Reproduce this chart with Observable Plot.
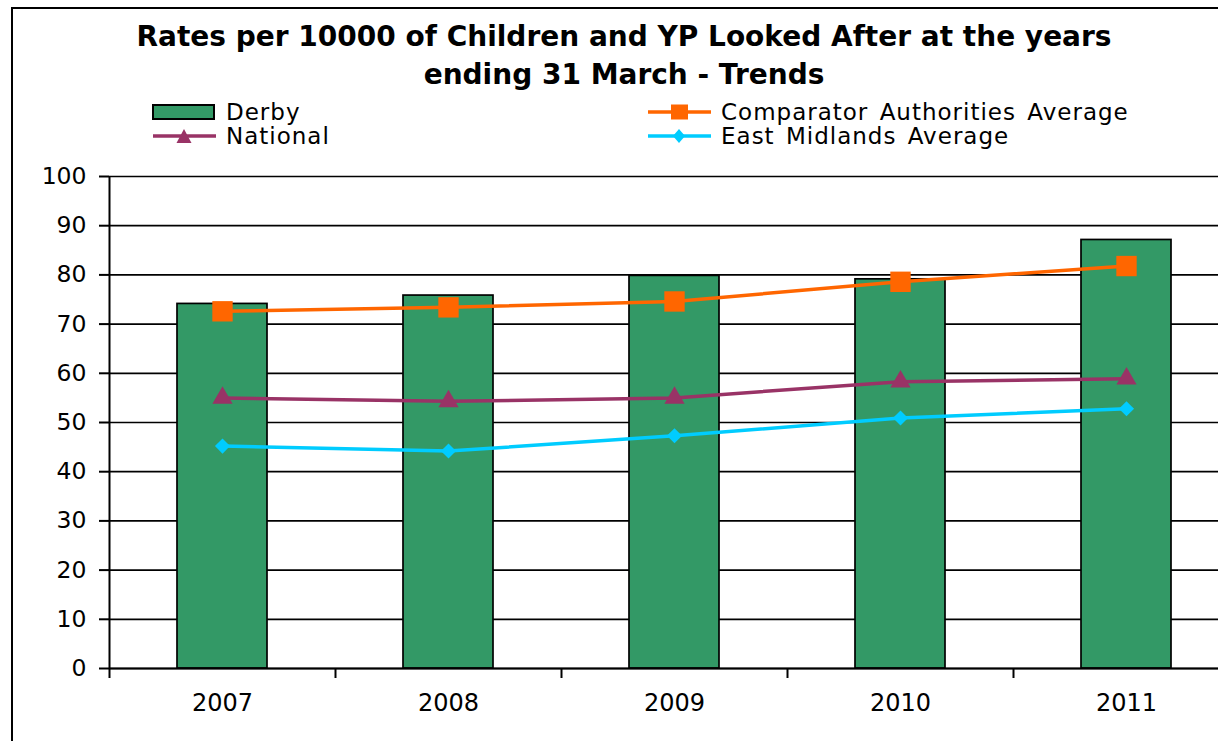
<!DOCTYPE html>
<html>
<head>
<meta charset="utf-8">
<script src="https://cdn.jsdelivr.net/npm/d3@7"></script>
<script src="https://cdn.jsdelivr.net/npm/@observablehq/plot@0.6"></script>
<style>
  body { margin: 0; background: #fff; font-family: "DejaVu Sans", sans-serif; color: #000; }
  #wrap { position: relative; width: 1218px; height: 741px; overflow: hidden; background: #fff; }
  #border { position: absolute; left: 11px; top: 7px; width: 1400px; height: 900px; border: 2px solid #000; }
  #title { position: absolute; left: 0; width: 1248px; top: 18px; text-align: center; font-weight: bold; font-size: 28px; line-height: 38px; }
  .leg { position: absolute; font-size: 23px; line-height: 24px; white-space: nowrap; display: flex; align-items: center; letter-spacing: 1px; word-spacing: 3px; }
  .leg svg { margin-right: 10px; }
  #chart { position: absolute; left: 0; top: 150px; width: 1240px; }
</style>
</head>
<body>
<div id="wrap">
  <div id="border"></div>
  <div id="title"></div>
  <div id="legend"></div>
  <div id="chart"></div>
</div>
<script>
// ---- data ----
const titleLines = ["Rates per 10000 of Children and YP Looked After at the years", "ending 31 March - Trends"];
const years = ["2007", "2008", "2009", "2010", "2011"];
const derby = [74.1, 75.8, 79.8, 79.1, 87.1];
const comparator = [72.6, 73.4, 74.6, 78.6, 81.8];
const national = [55.0, 54.3, 55.0, 58.3, 58.9];
const eastMidlands = [45.2, 44.2, 47.3, 50.9, 52.8];
const yTicks = [0, 10, 20, 30, 40, 50, 60, 70, 80, 90, 100];
const seriesNames = ["Derby", "Comparator Authorities Average", "National", "East Midlands Average"];
const colors = {derby: "#339966", comparator: "#FF6600", national: "#993366", eastMidlands: "#00CCFF"};

const rows = years.map((y, i) => ({year: y, derby: derby[i], comparator: comparator[i], national: national[i], eastMidlands: eastMidlands[i]}));

// ---- title ----
document.getElementById("title").innerHTML = titleLines.join("<br>");

// ---- legend ----
const legendItems = [
  {name: seriesNames[0], kind: "bar", color: colors.derby, left: 152, top: 100},
  {name: seriesNames[1], kind: "square", color: colors.comparator, left: 647, top: 100},
  {name: seriesNames[2], kind: "triangle", color: colors.national, left: 152, top: 124},
  {name: seriesNames[3], kind: "diamond", color: colors.eastMidlands, left: 647, top: 124}
];
const legend = document.getElementById("legend");
for (const it of legendItems) {
  const div = document.createElement("div");
  div.className = "leg";
  div.style.left = it.left + "px";
  div.style.top = it.top + "px";
  let sw;
  if (it.kind === "bar") {
    sw = `<svg width="64" height="24"><rect x="1" y="5" width="61" height="14" fill="${it.color}" stroke="#000" stroke-width="2"/></svg>`;
  } else {
    let m = "";
    if (it.kind === "square") m = `<rect x="24" y="4.5" width="17" height="15" fill="${it.color}"/>`;
    if (it.kind === "triangle") m = `<path d="M32,5 L39.5,19 L24.5,19 Z" fill="${it.color}"/>`;
    if (it.kind === "diamond") m = `<path d="M32,5 L38,12 L32,19 L26,12 Z" fill="${it.color}"/>`;
    sw = `<svg width="64" height="24"><line x1="1" x2="64" y1="12" y2="12" stroke="${it.color}" stroke-width="3.5"/>${m}</svg>`;
  }
  div.innerHTML = sw + `<span>${it.name}</span>`;
  legend.appendChild(div);
}

// ---- chart ----
const W = 1240, ML = 109, MR = 1;
const step = (W - ML - MR) / years.length;
const font = "'DejaVu Sans', sans-serif";

const chart = Plot.plot({
  width: W,
  height: 591,
  marginLeft: ML,
  marginRight: MR,
  marginTop: 26,
  marginBottom: 73,
  style: {fontFamily: font, fontSize: "23px", color: "#000", background: "transparent", overflow: "visible", maxWidth: "none"},
  x: {domain: years, paddingInner: 0.6, paddingOuter: 0.3, label: null},
  y: {domain: [0, 100], label: null},
  marks: [
    Plot.ruleY(yTicks, {stroke: "#000", strokeWidth: 1.7}),
    Plot.barY(rows, {x: "year", y: "derby", fill: colors.derby, stroke: "#000", strokeWidth: 1.7}),
    Plot.ruleY([0], {stroke: "#000", strokeWidth: 2}),
    Plot.ruleX([years[0]], {dx: -step / 2, y1: 0, y2: 100, stroke: "#000", strokeWidth: 2}),
    Plot.axisY({ticks: yTicks, tickSize: 10, tickPadding: 13, strokeWidth: 2, fontSize: 23.5, label: null}),
    Plot.axisX({dx: -step / 2, tickSize: 10, strokeWidth: 2, tickFormat: () => "", label: null}),
    Plot.axisX({tickSize: 0, tickPadding: 25, fontSize: 24, label: null}),
    Plot.lineY(rows, {x: "year", y: "comparator", stroke: colors.comparator, strokeWidth: 3.5}),
    Plot.dot(rows, {x: "year", y: "comparator", symbol: "square", r: 11.5, fill: colors.comparator}),
    Plot.lineY(rows, {x: "year", y: "national", stroke: colors.national, strokeWidth: 3.5}),
    Plot.dot(rows, {x: "year", y: "national", symbol: "triangle", r: 7.5, fill: colors.national}),
    Plot.lineY(rows, {x: "year", y: "eastMidlands", stroke: colors.eastMidlands, strokeWidth: 3.5}),
    Plot.dot(rows, {x: "year", y: "eastMidlands", symbol: "diamond2", r: 6.8, fill: colors.eastMidlands})
  ]
});
document.getElementById("chart").appendChild(chart);
</script>
</body>
</html>
